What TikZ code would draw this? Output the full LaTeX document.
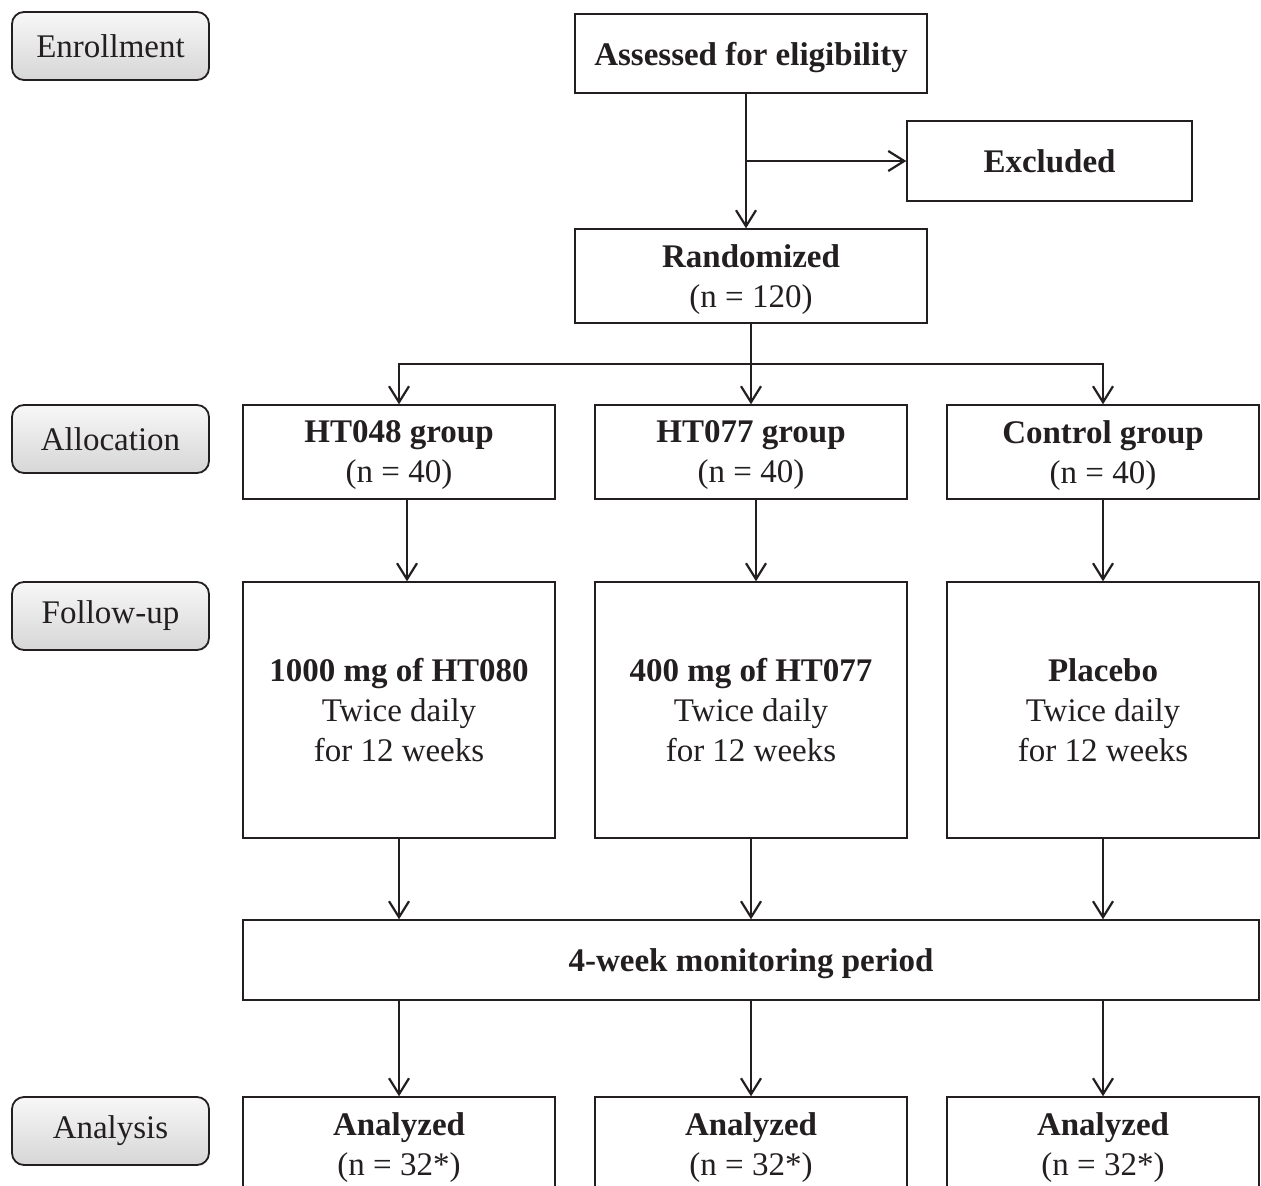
\documentclass[tikz,border=0pt]{standalone}
\usepackage{fontspec}
\setmainfont{Liberation Serif}
\usetikzlibrary{arrows.meta}
\definecolor{ink}{HTML}{231F20}

\begin{document}
\begin{tikzpicture}[x=0.5pt, y=-0.5pt,
	every node/.style={font=\fontsize{16.5}{20}\selectfont, text=ink, align=center, inner sep=0pt},
	stage/.style={draw=ink, line width=0.9pt, rounded corners=6pt, top color=gray!6, bottom color=gray!32, minimum width=98.5pt, minimum height=34pt},
	box/.style={draw=ink, line width=0.7pt, text depth=-2pt},
	arr/.style={draw=ink, line width=1.1pt, -{Straight Barb[length=8pt, width=10pt]}}]
	\clip (0,0) rectangle (1261,1186);
	% stage labels on the left
	\node[stage] (enr) at (110.5,46) {Enrollment};
	\node[stage] (alloc) at (110.5,439) {Allocation};
	\node[stage] (fol) at (110.5,616) {Follow-up};
	\node[stage] (ana) at (110.5,1131) {Analysis};
	% enrollment
	\node[box, minimum width=176pt, minimum height=39.5pt] (assess) at (751,53.5) {\textbf{Assessed for eligibility}};
	\node[box, minimum width=142.5pt, minimum height=40pt] (excl) at (1049.5,161) {\textbf{Excluded}};
	\node[box, minimum width=176pt, minimum height=47pt] (rand) at (751,276) {\textbf{Randomized}\\(n = 120)};
	% allocation
	\node[box, minimum width=156pt, minimum height=47pt] (g1) at (399,452) {\textbf{HT048 group}\\(n = 40)};
	\node[box, minimum width=156pt, minimum height=47pt] (g2) at (751,452) {\textbf{HT077 group}\\(n = 40)};
	\node[box, minimum width=156pt, minimum height=47pt] (g3) at (1103,452) {\textbf{Control group}\\(n = 40)};
	% follow-up
	\node[box, minimum width=156pt, minimum height=128pt] (f1) at (399,710) {\textbf{1000 mg of HT080}\\Twice daily\\for 12 weeks};
	\node[box, minimum width=156pt, minimum height=128pt] (f2) at (751,710) {\textbf{400 mg of HT077}\\Twice daily\\for 12 weeks};
	\node[box, minimum width=156pt, minimum height=128pt] (f3) at (1103,710) {\textbf{Placebo}\\Twice daily\\for 12 weeks};
	\node[box, minimum width=508pt, minimum height=40pt] (mon) at (751,960) {\textbf{4-week monitoring period}};
	% analysis
	\node[box, minimum width=156pt, minimum height=47pt] (a1) at (399,1144) {\textbf{Analyzed}\\(n = 32*)};
	\node[box, minimum width=156pt, minimum height=47pt] (a2) at (751,1144) {\textbf{Analyzed}\\(n = 32*)};
	\node[box, minimum width=156pt, minimum height=47pt] (a3) at (1103,1144) {\textbf{Analyzed}\\(n = 32*)};
	% connectors
	\draw[arr] ([xshift=-2.5pt]assess.south) -- ([xshift=-2.5pt]rand.north);
	\draw[arr] ([xshift=-2.5pt]assess.south |- excl.west) -- (excl.west);
	\coordinate (split) at (751,364);
	\draw[draw=ink, line width=1.1pt] (rand.south) -- (split);
	\draw[arr] (split) -| (g1.north);
	\draw[arr] (split) -- (g2.north);
	\draw[arr] (split) -| (g3.north);
	\draw[arr] ([xshift=4pt]g1.south) -- ([xshift=4pt]f1.north);
	\draw[arr] ([xshift=2.5pt]g2.south) -- ([xshift=2.5pt]f2.north);
	\draw[arr] (g3.south) -- (f3.north);
	\draw[arr] (f1.south) -- (f1.south |- mon.north);
	\draw[arr] (f2.south) -- (f2.south |- mon.north);
	\draw[arr] (f3.south) -- (f3.south |- mon.north);
	\draw[arr] (a1.north |- mon.south) -- (a1.north);
	\draw[arr] (a2.north |- mon.south) -- (a2.north);
	\draw[arr] (a3.north |- mon.south) -- (a3.north);
\end{tikzpicture}
\end{document}
